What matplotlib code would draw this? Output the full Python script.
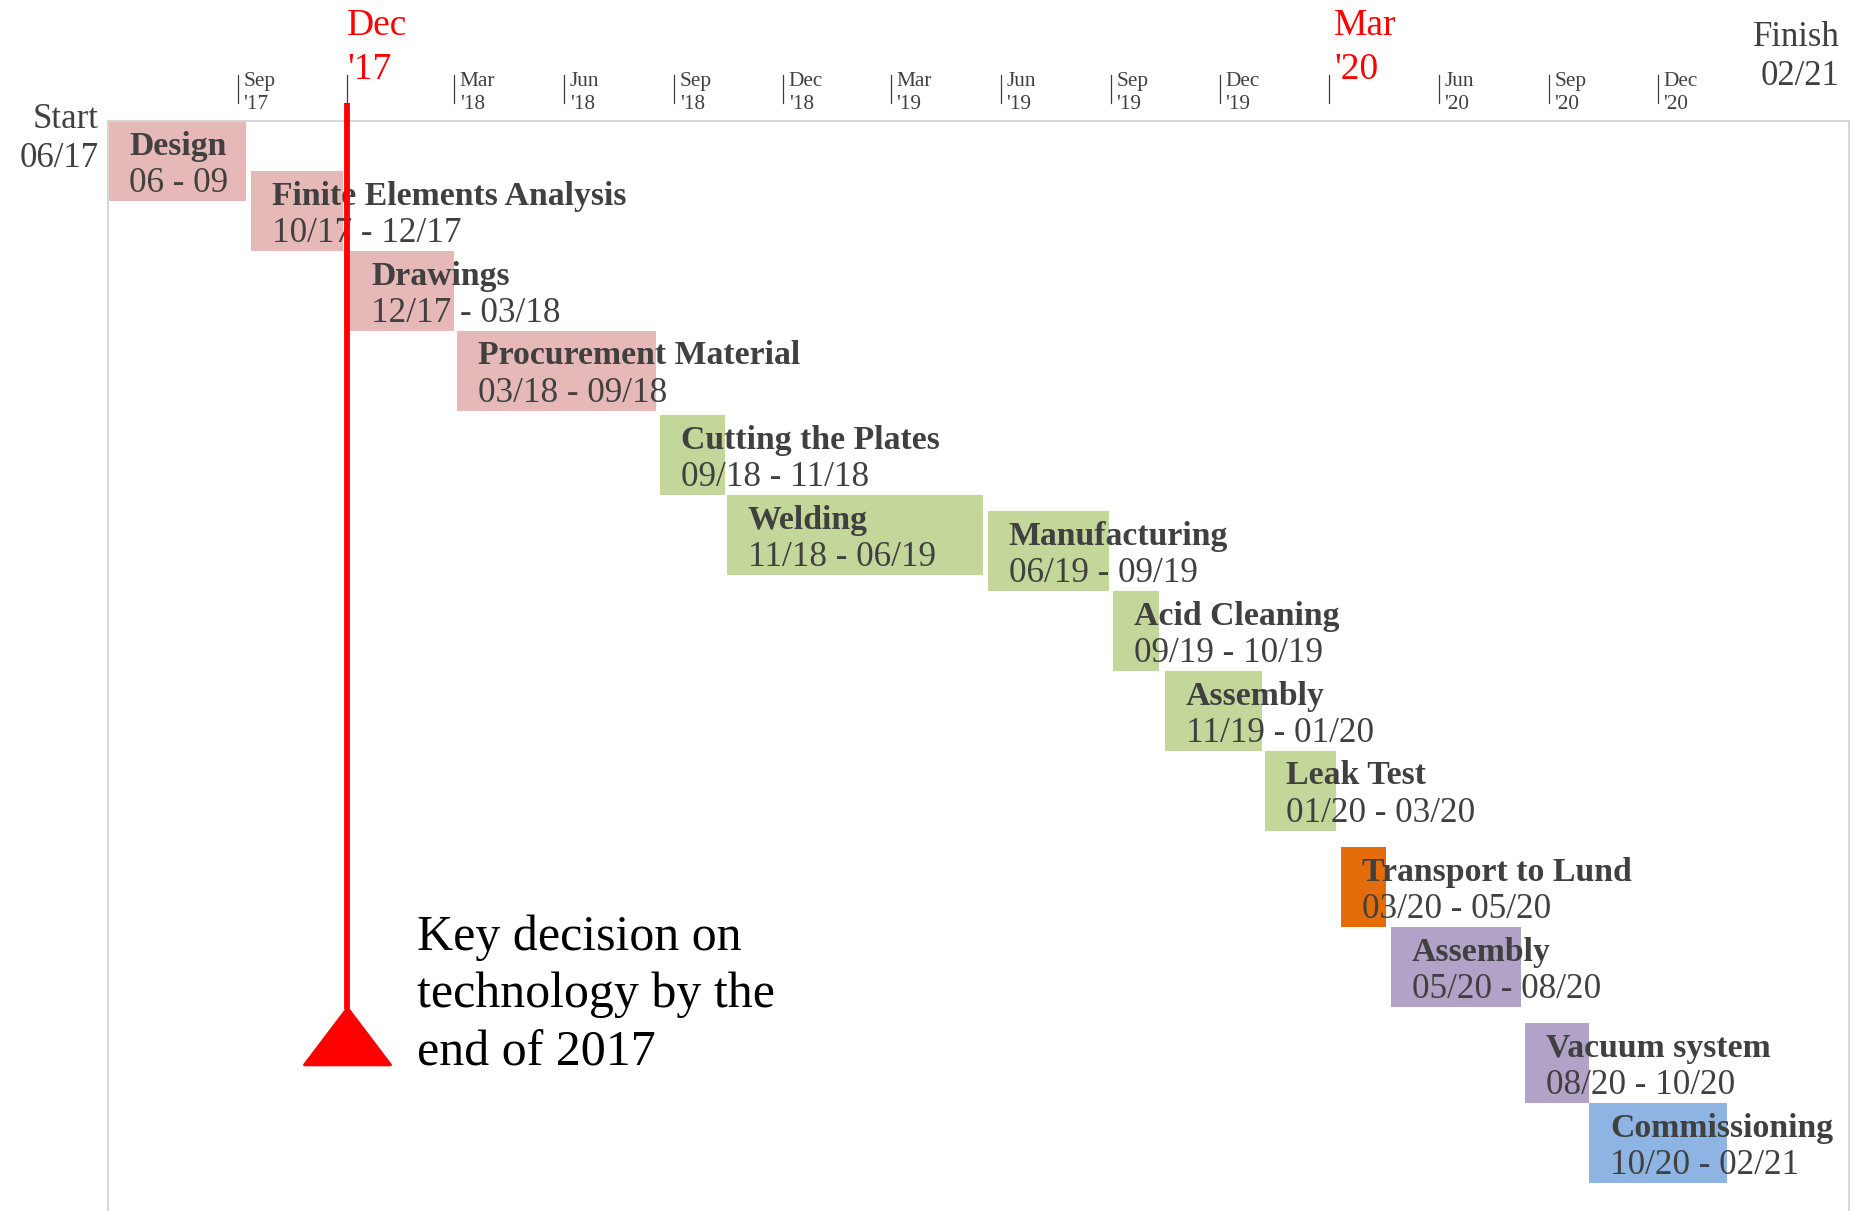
import matplotlib
matplotlib.use("Agg")
import matplotlib.pyplot as plt
import matplotlib.dates as mdates
from matplotlib.path import Path
from datetime import date

plt.rcParams["font.family"] = ["Liberation Serif", "DejaVu Serif"]

# ---- project schedule -------------------------------------------------
tasks = ["Design", "Finite Elements Analysis", "Drawings", "Procurement Material",
         "Cutting the Plates", "Welding", "Manufacturing", "Acid Cleaning",
         "Assembly", "Leak Test", "Transport to Lund", "Assembly",
         "Vacuum system", "Commissioning"]
span_labels = ["06 - 09", "10/17 - 12/17", "12/17 - 03/18", "03/18 - 09/18",
               "09/18 - 11/18", "11/18 - 06/19", "06/19 - 09/19", "09/19 - 10/19",
               "11/19 - 01/20", "01/20 - 03/20", "03/20 - 05/20", "05/20 - 08/20",
               "08/20 - 10/20", "10/20 - 02/21"]
starts = ["2017-05-16", "2017-09-12", "2017-12-04", "2018-03-03", "2018-08-20",
          "2018-10-15", "2019-05-21", "2019-09-03", "2019-10-16", "2020-01-08",
          "2020-03-11", "2020-04-22", "2020-08-12", "2020-10-05"]
ends = ["2017-09-08", "2017-11-28", "2018-03-01", "2018-08-17", "2018-10-13",
        "2019-05-17", "2019-08-30", "2019-10-11", "2020-01-05", "2020-03-07",
        "2020-04-18", "2020-08-09", "2020-10-05", "2021-01-28"]
phases = ["engineering"] * 4 + ["fabrication"] * 6 + ["transport"] + \
         ["installation"] * 2 + ["commissioning"]

# quarterly scale marks
tick_dates = ["2017-09-01", "2017-12-01", "2018-03-01", "2018-06-01", "2018-09-01",
              "2018-12-01", "2019-03-01", "2019-06-01", "2019-09-01", "2019-12-01",
              "2020-03-01", "2020-06-01", "2020-09-01", "2020-12-01"]
tick_months = ["Sep", "Dec", "Mar", "Jun", "Sep", "Dec", "Mar", "Jun", "Sep", "Dec",
               "Mar", "Jun", "Sep", "Dec"]
tick_years = ["'17", "'17", "'18", "'18", "'18", "'18", "'19", "'19", "'19", "'19",
              "'20", "'20", "'20", "'20"]
highlight_dates = ["2017-12-01", "2020-03-01"]

range_start = "2017-05-16"
range_end = "2021-05-10"
start_label = ["Start", "06/17"]
finish_label = ["Finish", "02/21"]

decision_date = "2017-12-01"
decision_text = ["Key decision on", "technology by the", "end of 2017"]

# ---- layout & style ---------------------------------------------------
phase_colors = {"engineering": "#E6B9B8", "fabrication": "#C4D79B",
                "transport": "#E46C0A", "installation": "#B3A2C7",
                "commissioning": "#8DB4E2"}
lane_top = [0, 50, 130, 210, 294, 374, 390, 470, 550, 630, 726, 806, 902, 982]
bar_h = 80
highlight_pad = [0.5, 4.0]
text_grey = "#404040"
red = "#FF0000"


def dnum(s):
    return mdates.date2num(date.fromisoformat(s))


W, H = 1856, 1211
fig = plt.figure(figsize=(W / 100, H / 100), dpi=100)
left_px, right_px, top_px = 108.5, 1849, 121
ax = fig.add_axes([left_px / W, 0, (right_px - left_px) / W, (H - top_px) / H])
ax.set_xlim(dnum(range_start), dnum(range_end))
ax.set_ylim(H - top_px, 0)
ax.set_xticks([])
ax.set_yticks([])
for side in ("top", "left", "right"):
    ax.spines[side].set_color("#D4D4D4")
    ax.spines[side].set_linewidth(1.3)
ax.spines["bottom"].set_visible(False)

# bars with their name / date-range labels
for name, span, s, e, ph, top in zip(tasks, span_labels, starts, ends, phases, lane_top):
    x0, x1 = dnum(s), dnum(e)
    ax.barh(top, x1 - x0, left=x0, height=bar_h, align="edge",
            color=phase_colors[ph], linewidth=0, zorder=2)
    ax.annotate(name, xy=(x0, top + 33.5), xytext=(15.1, 0), textcoords="offset points",
                va="baseline", ha="left", fontsize=24.3, fontweight="bold",
                color=text_grey, zorder=3)
    ax.annotate(span, xy=(x0, top + 71.5), xytext=(15.1, 0), textcoords="offset points",
                va="baseline", ha="left", fontsize=25.3, color=text_grey, zorder=3)

# time scale above the chart
for d, m, y in zip(tick_dates, tick_months, tick_years):
    x = dnum(d)
    ax.plot([x, x], [-46, -18], color=text_grey, lw=0.9, clip_on=False)
    if d in highlight_dates:
        pad = highlight_pad[highlight_dates.index(d)]
        ax.annotate(m, xy=(x, -86), xytext=(pad, 0), textcoords="offset points",
                    va="baseline", ha="left", fontsize=27, color=red,
                    annotation_clip=False)
        ax.annotate(y, xy=(x, -42), xytext=(pad, 0), textcoords="offset points",
                    va="baseline", ha="left", fontsize=27, color=red,
                    annotation_clip=False)
    else:
        ax.annotate(m, xy=(x, -35), xytext=(4.0, 0), textcoords="offset points",
                    va="baseline", ha="left", fontsize=15.3, color=text_grey,
                    annotation_clip=False)
        ax.annotate(y, xy=(x, -12), xytext=(4.0, 0), textcoords="offset points",
                    va="baseline", ha="left", fontsize=15.3, color=text_grey,
                    annotation_clip=False)

# start / finish markers
for txt, yb in zip(start_label, [7, 46]):
    ax.annotate(txt, xy=(dnum(range_start), yb), xytext=(-6.8, 0),
                textcoords="offset points", va="baseline", ha="right",
                fontsize=25, color=text_grey, annotation_clip=False)
for txt, yb in zip(finish_label, [-75, -36]):
    ax.annotate(txt, xy=(dnum(range_end), yb), xytext=(-6.5, 0),
                textcoords="offset points", va="baseline", ha="right",
                fontsize=25, color=text_grey, annotation_clip=False)

# decision milestone: red line ending in a triangle
xd = dnum(decision_date)
ax.plot([xd, xd], [-18, 888], color=red, lw=4.2, solid_capstyle="butt",
        clip_on=False, zorder=6)
tri = Path([(-1, -0.66), (1, -0.66), (0, 0.66), (-1, -0.66)],
           [Path.MOVETO, Path.LINETO, Path.LINETO, Path.CLOSEPOLY])
ax.plot([xd], [915], marker=tri, markersize=62, color=red, markeredgewidth=2,
        markeredgecolor=red, linestyle="none", clip_on=False, zorder=6)
for txt, yb in zip(decision_text, [829, 886, 944]):
    ax.annotate(txt, xy=(xd, yb), xytext=(50.9, 0), textcoords="offset points",
                va="baseline", ha="left", fontsize=36, color="black")

fig.savefig("out.png", dpi=100)
